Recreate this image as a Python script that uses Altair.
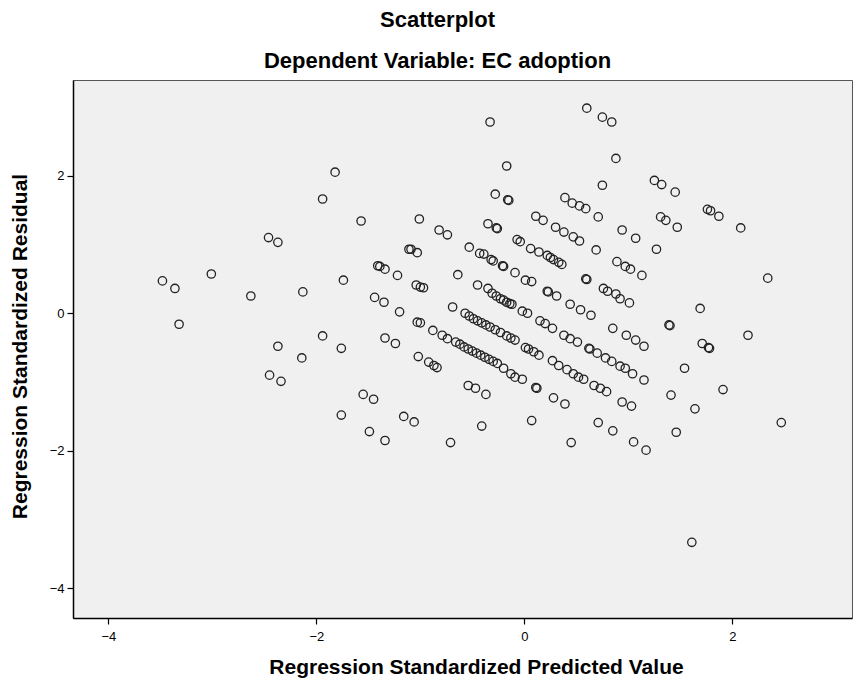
import altair as alt
import pandas as pd

# Regression standardized predicted values (x) and residuals (y)
pred = [
    -3.48, -3.36, -3.32, -3.01, -2.63, -2.46, -2.37, -2.37, -2.45, -2.34, -2.13, -2.14,
    -1.94, -1.82, -1.94, -1.74, -1.76, -1.76, -1.57, -1.11, -1.41, -1.39, -1.34, -1.22,
    -1.44, -1.35, -1.20, -1.34, -1.24, -1.55, -1.45, -1.49, -1.34, -1.16, -1.06,
    -0.33, -0.17, -0.28, -0.16, -0.15, -1.01, -0.82, -0.74, -0.35, -0.27, -0.26, -0.07,
    -0.04, 0.06, -1.09, -1.03, -0.53, -0.43, -0.39, -0.32, -0.30, -0.21, -0.20, -0.09,
    0.01, -0.64, -1.04, -1.00, -0.97, -0.45, -0.35,
    -0.31, -0.27, -0.23, -0.20, -0.17, -0.14, -0.12, -0.02, 0.03, -0.69, -0.57, -0.53,
    -0.49, -0.45, -0.41, -0.37, -0.33, -0.28, -0.23, -0.17, -0.13, -0.09, 0.01, -1.03,
    -1.00, -0.88, -0.79, -0.74, -0.66, -0.62, -0.58, -0.54, -0.50, -0.46, -0.42, -0.38,
    -0.34, -0.30, -0.26, -0.20, -0.13, -0.09, -0.02, -1.02, -0.92, -0.87, -0.84, -0.54,
    -0.47, -0.37, -0.41, -0.71, 0.07,
    0.60, 0.75, 0.84, 0.88, 0.75, 0.39, 0.46, 0.53, 0.59, 0.71, 0.11, 0.18, 0.30, 0.38,
    0.47, 0.53, 0.94, 1.07, 0.14, 0.22, 0.25, 0.28, 0.33, 0.36, 0.69, 0.89, 0.97, 1.02,
    1.13, 0.59, 0.60, 0.07,
    0.22, 0.23, 0.31, 0.76, 0.80, 0.88, 0.92, 1.01, 0.44, 0.54, 0.64, 0.15, 0.20, 0.27,
    0.85, 0.98, 1.07, 1.15, 0.38, 0.44, 0.51, 0.04, 0.09, 0.14, 0.62, 0.63, 0.70, 0.78,
    0.84, 0.92, 0.97, 1.04, 0.27, 0.33, 0.41, 0.47, 0.52, 0.57, 1.15, 0.11, 0.12, 0.67,
    0.73, 0.79, 0.28, 0.39, 0.94, 1.03, 0.71, 0.85, 0.45, 1.05, 1.17,
    1.25, 1.32, 1.45, 1.31, 1.36, 1.47, 1.76, 1.79, 1.87, 2.08, 1.27, 1.69, 1.39, 1.40,
    1.71, 1.77, 1.78, 2.15, 1.54, 1.41, 1.91, 1.64, 1.46, 2.34, 2.47, 1.61,
]
resid = [
    0.47, 0.36, -0.16, 0.57, 0.25, 1.10, 1.03, -0.48, -0.90, -0.99, 0.31, -0.65,
    1.66, 2.05, -0.33, 0.48, -0.51, -1.48, 1.34, 0.93, 0.69, 0.68, 0.64, 0.55,
    0.23, 0.16, 0.02, -0.36, -0.44, -1.18, -1.25, -1.72, -1.85, -1.50, -1.58,
    2.78, 2.14, 1.73, 1.65, 1.64, 1.37, 1.21, 1.14, 1.30, 1.24, 1.23, 1.07,
    1.04, 0.94, 0.93, 0.88, 0.96, 0.87, 0.86, 0.78, 0.76, 0.69, 0.68, 0.59,
    0.48, 0.56, 0.41, 0.38, 0.37, 0.41, 0.36,
    0.29, 0.25, 0.21, 0.19, 0.16, 0.14, 0.13, 0.03, 0.00, 0.09, 0.00, -0.04,
    -0.08, -0.11, -0.14, -0.17, -0.20, -0.24, -0.28, -0.33, -0.36, -0.39, -0.50, -0.13,
    -0.14, -0.25, -0.32, -0.37, -0.42, -0.45, -0.49, -0.52, -0.55, -0.58, -0.61, -0.64,
    -0.67, -0.70, -0.73, -0.80, -0.88, -0.93, -0.96, -0.63, -0.71, -0.76, -0.79, -1.05,
    -1.09, -1.18, -1.64, -1.88, -1.56,
    2.98, 2.85, 2.78, 2.25, 1.86, 1.68, 1.60, 1.56, 1.52, 1.40, 1.41, 1.35, 1.25, 1.18,
    1.11, 1.05, 1.21, 1.09, 0.89, 0.84, 0.81, 0.78, 0.74, 0.71, 0.92, 0.75, 0.68, 0.64,
    0.55, 0.50, 0.49, 0.46,
    0.32, 0.31, 0.25, 0.36, 0.32, 0.28, 0.21, 0.15, 0.13, 0.05, -0.03, -0.11, -0.15, -0.22,
    -0.22, -0.32, -0.39, -0.48, -0.32, -0.37, -0.42, -0.52, -0.56, -0.61, -0.51, -0.52, -0.58, -0.65,
    -0.70, -0.77, -0.80, -0.88, -0.69, -0.76, -0.82, -0.88, -0.93, -0.96, -0.97, -1.08, -1.09, -1.05,
    -1.09, -1.14, -1.23, -1.32, -1.29, -1.35, -1.59, -1.71, -1.88, -1.87, -1.99,
    1.93, 1.87, 1.76, 1.40, 1.35, 1.25, 1.51, 1.49, 1.41, 1.24, 0.93, 0.07, -0.17, -0.18,
    -0.44, -0.50, -0.51, -0.32, -0.80, -1.19, -1.11, -1.39, -1.73, 0.51, -1.59, -3.33,
]

x_ticks = [-4, -2, 0, 2]
y_ticks = [-4, -2, 0, 2]

df = pd.DataFrame({"pred": pred, "resid": resid})

FONT = "Liberation Sans, Arial, sans-serif"

chart = (
    alt.Chart(df)
    .mark_point(shape="circle", filled=False, size=70, stroke="#222222", strokeWidth=1.3, opacity=1)
    .encode(
        x=alt.X(
            "pred:Q",
            scale=alt.Scale(domain=[-4.34, 3.15], nice=False, zero=False),
            axis=alt.Axis(
                values=x_ticks,
                title="Regression Standardized Predicted Value",
                titleX=403,
                titleY=49,
                titleAlign="center",
                titleBaseline="middle",
                labelPadding=6,
            ),
        ),
        y=alt.Y(
            "resid:Q",
            scale=alt.Scale(domain=[-4.43, 3.39], nice=False, zero=False),
            axis=alt.Axis(
                values=y_ticks,
                title="Regression Standardized Residual",
                titleX=-53,
                titleY=266,
                titleAngle=270,
                titleAlign="center",
                titleBaseline="middle",
                labelPadding=3,
            ),
        ),
    )
    .properties(
        width=779,
        height=538,
        padding={"left": 65, "top": 72, "right": 2, "bottom": 62},
        autosize=alt.AutoSizeParams(type="none"),
        title=alt.TitleParams(
            text="Scatterplot",
            subtitle="Dependent Variable: EC adoption",
            anchor="middle",
            font=FONT,
            fontSize=22,
            fontWeight="bold",
            color="#000000",
            subtitleFont=FONT,
            subtitleFontSize=22,
            subtitleFontWeight="bold",
            subtitleColor="#000000",
            subtitlePadding=19,
            offset=7,
            dx=-25,
        ),
    )
    .configure_view(fill="#F0F0F0", stroke="#555555", strokeWidth=1)
    .configure_axis(
        grid=False,
        domainColor="#000000",
        domainWidth=1.5,
        tickColor="#000000",
        tickWidth=1.2,
        tickSize=6,
        labelFont=FONT,
        labelFontSize=13,
        labelColor="#000000",
        titleFont=FONT,
        titleFontSize=21,
        titleFontWeight="bold",
        titleColor="#000000",
    )
)

chart.save("out.html", embed_options={"renderer": "svg", "actions": False})
